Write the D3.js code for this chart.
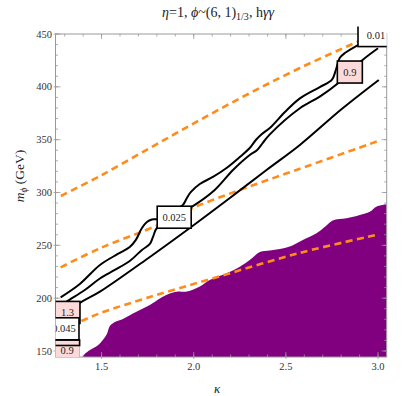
<!DOCTYPE html>
<html><head><meta charset="utf-8">
<script src="https://cdn.jsdelivr.net/npm/d3@7"></script>
<style>body{margin:0;background:#fff}svg{display:block}</style>
</head><body><svg id="c" width="416" height="396" font-family="'Liberation Serif', 'Times New Roman', serif"></svg>
<script>
// ---- data (kappa, m_phi in GeV) ----
const xTicks = [1.5, 2.0, 2.5, 3.0];
const xTickLabels = ["1.5", "2.0", "2.5", "3.0"];
const yTicks = [150, 200, 250, 300, 350, 400, 450];
const yTickLabels = ["150", "200", "250", "300", "350", "400", "450"];

// black contour lines
const contourA = [[1.25,178],[1.382,195.4],[1.491,206.1],[1.762,239.0],[1.988,267.6],[2.196,294.8],[2.395,321.3],[2.576,345.0],[2.803,379.0],[3.004,406.5]];
const contourB = [[1.278,192.6],[1.310,196.7],[1.409,207.7],[1.491,218.6],[1.572,226.7],[1.653,235.2],[1.719,245.6],[1.762,251.3],[1.779,257.9],[1.800,266.4],[1.898,277.8],[1.991,286.6],[2.114,302.4],[2.213,321.3],[2.304,335.5],[2.343,340],[2.375,347],[2.413,355],[2.576,379.7],[2.684,390.7],[2.783,403.3],[2.847,414],[2.916,425.4],[3.0,436.5]];
const contourC = [[1.278,200.8],[1.382,213.4],[1.491,231.4],[1.588,241.8],[1.653,248.4],[1.686,255.1],[1.719,266.4],[1.746,272.1],[1.773,274.5],[1.805,274.9],[1.871,281.6],[1.941,288.2],[1.963,294.8],[1.985,300.5],[2.033,308.0],[2.104,314.7],[2.178,323.2],[2.250,333.6],[2.304,342.1],[2.337,349.7],[2.370,355.4],[2.413,361.0],[2.495,376.2],[2.576,389.1],[2.684,399.8],[2.749,406.5],[2.771,415.9],[2.792,427.3],[2.820,432.0],[2.892,439.6],[2.966,446.2],[3.004,450.9]];

// orange dashed lines
const dashTop = [[1.279,296.7],[1.491,315.6],[1.762,342.1],[2.024,367.7],[2.295,393.2],[2.576,417.8],[2.885,442.4],[3.0,451]];
const dashMid = [[1.278,229.2],[1.491,247.2],[1.807,269.2],[1.991,285.1],[2.250,302.4],[2.557,321.3],[3.009,349.2]];
const dashLow = [[1.274,170.4],[1.382,177.8],[1.491,185.7],[1.762,201.1],[2.124,219.8],[2.575,242.8],[2.991,259.8]];

// excluded (purple) region upper boundary
const excluded = [[1.375,138],[1.405,146.5],[1.437,151.0],[1.475,154.7],[1.507,160.4],[1.529,166.1],[1.545,173.7],[1.578,177.9],[1.610,179.8],[1.670,185.5],[1.762,193.5],[1.816,199.7],[1.870,204.4],[1.914,206.3],[1.963,206.3],[2.033,211.0],[2.087,217.2],[2.178,223.5],[2.250,229.8],[2.304,236.1],[2.359,243.7],[2.413,245.1],[2.467,246.5],[2.521,248.9],[2.592,255.1],[2.666,261.4],[2.717,268.3],[2.754,273.5],[2.829,275.6],[2.901,278.7],[2.955,281.8],[2.991,286.6],[3.047,288.8]];

// contour labels: text, kappa, m of centre, fill
const labels = [
  {t:"0.9",  k:1.313, m:150.0, fill:"#fcdada", partial:true},
  {t:"1.3",  k:1.315, m:186.5, fill:"#fcdada"},
  {t:"0.045",k:1.296, m:171.0, fill:"#ffffff"},
  {t:"0.025",k:1.894, m:276.6, fill:"#ffffff"},
  {t:"0.9",  k:2.847, m:414.0, fill:"#fcdada"},
  {t:"0.01", k:2.989, m:448.5, fill:"#ffffff"}
];
const labelW = {"0.9":25,"1.3":25,"0.045":30,"0.025":34,"0.01":36};
const labelH = 22;

// ---- drawing ----
const svg = d3.select("#c");
const X0=55.5, X1=386.7, Y0=34, Y1=357;
const x = d3.scaleLinear().domain([1.25, 3.047]).range([X0, X1]);
const y = d3.scaleLinear().domain([144.3, 450]).range([Y1, Y0]);

const defs = svg.append("defs");
defs.append("clipPath").attr("id","plot").append("rect").attr("x",X0).attr("y",Y0).attr("width",X1-X0).attr("height",Y1-Y0);
defs.append("clipPath").attr("id","lab").append("rect").attr("x",X0).attr("y",26.5).attr("width",X1-X0).attr("height",Y1-26.5);

const g = svg.append("g").attr("clip-path","url(#plot)");

// purple region
const area = d3.area().x(d=>x(d[0])).y0(y(130)).y1(d=>y(d[1])).curve(d3.curveCatmullRom);
g.append("path").datum([[1.3,130],...excluded]).attr("d",area).attr("fill","#800080");

const line = d3.line().x(d=>x(d[0])).y(d=>y(d[1])).curve(d3.curveCatmullRom);
[dashTop,dashMid,dashLow].forEach(s=>{
  g.append("path").datum(s).attr("d",line).attr("fill","none").attr("stroke","#ff8c1a")
   .attr("stroke-width",2.6).attr("stroke-dasharray","7,4.5");
});
[contourA,contourB,contourC].forEach(s=>{
  g.append("path").datum(s).attr("d",line).attr("fill","none").attr("stroke","#000")
   .attr("stroke-width",2).attr("stroke-linejoin","round");
});

// frame
svg.append("rect").attr("x",X0).attr("y",Y0).attr("width",X1-X0).attr("height",Y1-Y0)
  .attr("fill","none").attr("stroke","#999").attr("stroke-width",1);

const tk = svg.append("g").attr("stroke","#999").attr("stroke-width",0.8);
d3.range(1.3, 3.05, 0.1).forEach(v=>{
  const px=x(v);
  tk.append("line").attr("x1",px).attr("x2",px).attr("y1",Y1).attr("y2",Y1-2.5);
  tk.append("line").attr("x1",px).attr("x2",px).attr("y1",Y0).attr("y2",Y0+2.5);
});
d3.range(150, 451, 10).forEach(v=>{
  const py=y(v);
  tk.append("line").attr("x1",X0).attr("x2",X0+2.5).attr("y1",py).attr("y2",py);
  tk.append("line").attr("x1",X1).attr("x2",X1-2.5).attr("y1",py).attr("y2",py);
});
xTicks.forEach(v=>{
  const px=x(v);
  tk.append("line").attr("x1",px).attr("x2",px).attr("y1",Y1+2).attr("y2",Y1-5);
  tk.append("line").attr("x1",px).attr("x2",px).attr("y1",Y0).attr("y2",Y0+5);
});
yTicks.forEach(v=>{
  const py=y(v);
  tk.append("line").attr("x1",X0-2).attr("x2",X0+5).attr("y1",py).attr("y2",py);
  tk.append("line").attr("x1",X1).attr("x2",X1-5).attr("y1",py).attr("y2",py);
});

// tick labels
svg.append("g").selectAll("text").data(xTicks).join("text")
  .attr("x",d=>x(d)).attr("y",Y1+13).attr("text-anchor","middle")
  .attr("font-size",10.5).attr("fill","#333").text((d,i)=>xTickLabels[i]);
svg.append("g").selectAll("text").data(yTicks).join("text")
  .attr("x",X0-3.5).attr("y",d=>y(d)+3.6).attr("text-anchor","end")
  .attr("font-size",10.5).attr("fill","#333").text((d,i)=>yTickLabels[i]);

// contour labels
const lg = svg.append("g").attr("clip-path","url(#lab)");
labels.forEach(L=>{
  const w=labelW[L.t], cx=x(L.k), cy=y(L.m);
  if(L.partial){
    lg.append("rect").attr("x",cx-w/2).attr("y",cy-11).attr("width",w).attr("height",22)
      .attr("fill",L.fill).attr("stroke","#d6a5a5").attr("stroke-width",0.8);
    lg.append("rect").attr("x",cx-w/2).attr("y",cy-11).attr("width",w).attr("height",5.5)
      .attr("fill",L.fill).attr("stroke","#000").attr("stroke-width",1.6);
    lg.append("text").attr("x",cx).attr("y",cy+3.5).attr("text-anchor","middle")
      .attr("font-size",10.5).attr("fill","#222").text(L.t);
    return;
  }
  lg.append("rect").attr("x",cx-w/2).attr("y",cy-labelH/2).attr("width",w).attr("height",labelH)
    .attr("fill",L.fill).attr("stroke","#000").attr("stroke-width",1.6);
  lg.append("text").attr("x",cx).attr("y",cy+3.6).attr("text-anchor","middle")
    .attr("font-size",10.5).attr("fill","#222").text(L.t);
});

// title
const tt = svg.append("text").attr("x",218).attr("y",17).attr("text-anchor","middle")
  .attr("font-size",14).attr("fill","#222");
tt.append("tspan").attr("font-style","italic").text("η");
tt.append("tspan").text("=1, ");
tt.append("tspan").attr("font-style","italic").text("ϕ");
tt.append("tspan").text("~(6, 1)");
tt.append("tspan").attr("font-size",10).attr("dy",3).text("1/3");
tt.append("tspan").attr("dy",-3).text(", h");
tt.append("tspan").attr("font-style","italic").text("γγ");

// axis labels
const yl = svg.append("text").attr("transform","translate(24,176) rotate(-90)")
  .attr("text-anchor","middle").attr("font-size",13.5).attr("fill","#222");
yl.append("tspan").attr("font-style","italic").text("m");
yl.append("tspan").attr("font-style","italic").attr("font-size",9.5).attr("dy",3).text("ϕ");
yl.append("tspan").attr("dy",-3).text(" (GeV)");
svg.append("text").attr("x",217).attr("y",393).attr("text-anchor","middle")
  .attr("font-size",13).attr("font-style","italic").attr("fill","#222").text("κ");
</script></body></html>
